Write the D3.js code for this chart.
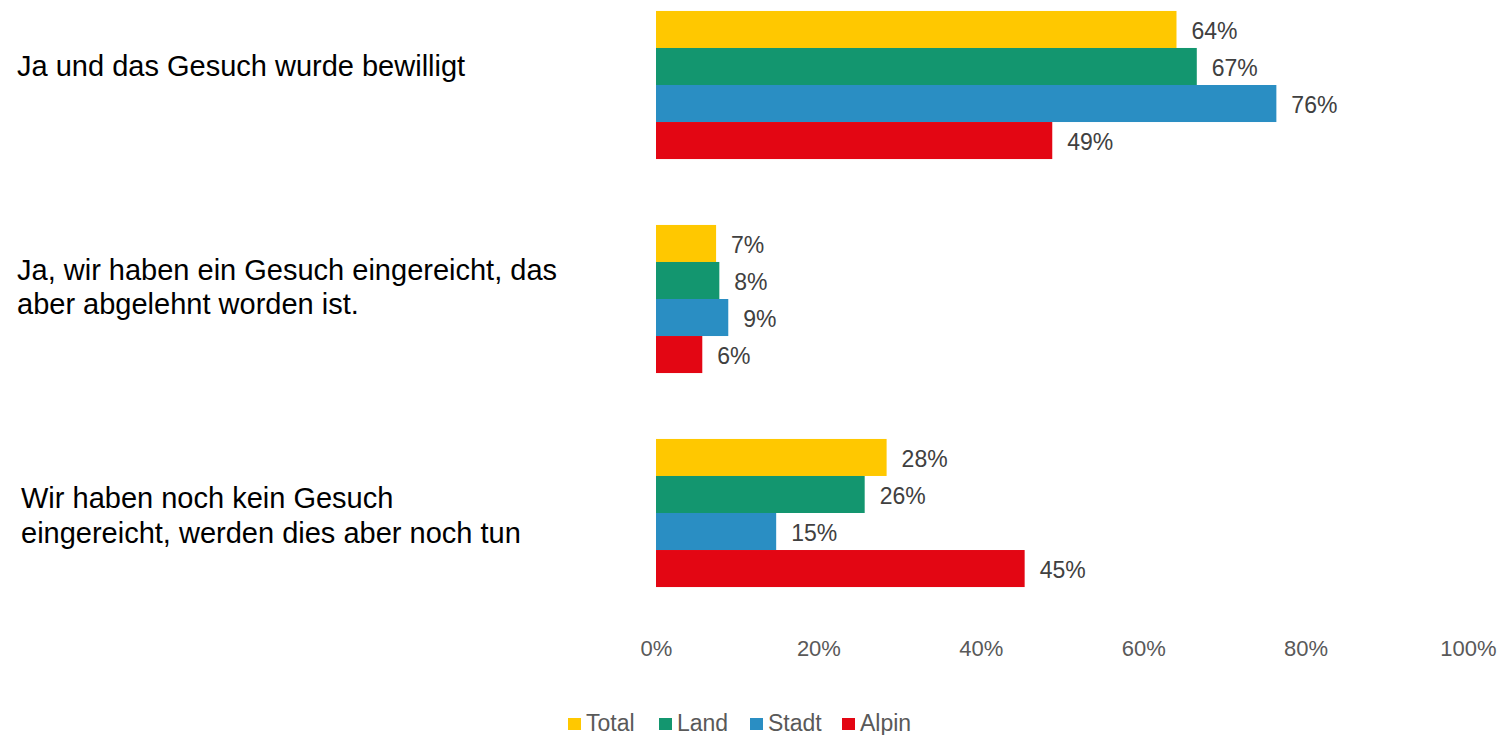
<!DOCTYPE html>
<html>
<head>
<meta charset="utf-8">
<script src="https://cdn.jsdelivr.net/npm/d3@7"></script>
<style>
  html, body { margin: 0; padding: 0; background: #fff; }
  svg { display: block; font-family: "Liberation Sans", Arial, sans-serif; }
</style>
</head>
<body>
<svg id="chart" width="1501" height="735"></svg>
<script>
// ---- data ----
const categories = [
  "Ja und das Gesuch wurde bewilligt",
  "Ja, wir haben ein Gesuch eingereicht, das aber abgelehnt worden ist.",
  "Wir haben noch kein Gesuch eingereicht, werden dies aber noch tun"
];
const categoryLines = [
  ["Ja und das Gesuch wurde bewilligt"],
  ["Ja, wir haben ein Gesuch eingereicht, das", "aber abgelehnt worden ist."],
  ["Wir haben noch kein Gesuch", "eingereicht, werden dies aber noch tun"]
];
const seriesNames = ["Total", "Land", "Stadt", "Alpin"];
const seriesColors = ["#FFC800", "#13966F", "#2A8EC3", "#E30613"];
const totalValues = [0.641, 0.074, 0.284];
const landValues  = [0.666, 0.078, 0.257];
const stadtValues = [0.764, 0.089, 0.148];
const alpinValues = [0.488, 0.057, 0.454];
const xTicks = [0, 0.2, 0.4, 0.6, 0.8, 1.0];

// ---- layout ----
const seriesValues = [totalValues, landValues, stadtValues, alpinValues];
const svg = d3.select("#chart");

const x = d3.scaleLinear().domain([0, 1]).range([656, 1468]);
const y = d3.scaleBand().domain(categories).range([-22, 620])
  .paddingInner(0.308).paddingOuter(0.154);
const ySub = d3.scaleBand().domain(seriesNames).range([0, y.bandwidth()]).padding(0);

// label line offsets relative to group center (baseline positions)
const labelDy = [[-9.5], [-19, 15], [-5, 30]];
const labelX = [17, 17, 21];

// bars
const groups = svg.append("g").selectAll("g")
  .data(categories)
  .join("g")
  .attr("transform", d => `translate(0,${y(d)})`);

groups.each(function(cat, ci) {
  const g = d3.select(this);
  seriesNames.forEach((s, si) => {
    const v = seriesValues[si][ci];
    g.append("rect")
      .attr("x", x(0))
      .attr("y", ySub(s))
      .attr("width", x(v) - x(0))
      .attr("height", ySub.bandwidth())
      .attr("fill", seriesColors[si]);
    g.append("text")
      .attr("x", x(v) + 15)
      .attr("y", ySub(s) + ySub.bandwidth() / 2)
      .attr("dy", "0.42em")
      .attr("font-size", 23)
      .attr("fill", "#404040")
      .text(d3.format(".0%")(v));
  });
});

// category labels
categories.forEach((cat, ci) => {
  const cy = y(cat) + y.bandwidth() / 2;
  const t = svg.append("text")
    .attr("font-size", 29)
    .attr("fill", "#000");
  categoryLines[ci].forEach((line, li) => {
    t.append("tspan")
      .attr("x", labelX[ci])
      .attr("y", cy + labelDy[ci][li])
      .text(line);
  });
});

// x axis (labels only)
const xAxis = d3.axisBottom(x).tickValues(xTicks).tickFormat(d3.format(".0%")).tickSize(0).tickPadding(0);
const ax = svg.append("g").attr("transform", "translate(0,641)").call(xAxis);
ax.select(".domain").remove();
ax.selectAll("text")
  .attr("font-size", 22)
  .attr("font-family", "Liberation Sans, Arial, sans-serif")
  .attr("fill", "#595959")
  .attr("dy", "0.68em");

// legend
const legendX = [568, 659, 750, 842];
const legend = svg.append("g");
seriesNames.forEach((s, i) => {
  legend.append("rect")
    .attr("x", legendX[i]).attr("y", 718)
    .attr("width", 13).attr("height", 12)
    .attr("fill", seriesColors[i]);
  legend.append("text")
    .attr("x", legendX[i] + 18).attr("y", 731)
    .attr("font-size", 23)
    .attr("fill", "#595959")
    .text(s);
});
</script>
</body>
</html>
